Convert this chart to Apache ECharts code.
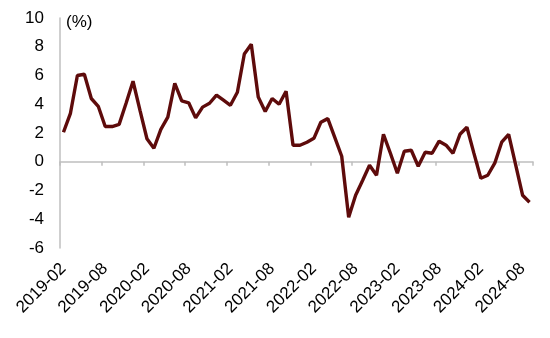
<!DOCTYPE html>
<html>

<head>
    <meta charset="utf-8">
    <script src="https://cdn.jsdelivr.net/npm/echarts@6.0.0/dist/echarts.min.js"></script>
    <style>
        body { margin: 0; background: #fff; }
    </style>
</head>

<body>
    <div id="echartsMain" style="width: 550px; height: 338px;"></div>
</body>

</html>

<script type="text/javascript">
    // monthly, 2019-02 .. 2024-09
    let months = [
        '2019-02', '2019-03', '2019-04', '2019-05', '2019-06', '2019-07', '2019-08', '2019-09', '2019-10', '2019-11', '2019-12',
        '2020-01', '2020-02', '2020-03', '2020-04', '2020-05', '2020-06', '2020-07', '2020-08', '2020-09', '2020-10', '2020-11', '2020-12',
        '2021-01', '2021-02', '2021-03', '2021-04', '2021-05', '2021-06', '2021-07', '2021-08', '2021-09', '2021-10', '2021-11', '2021-12',
        '2022-01', '2022-02', '2022-03', '2022-04', '2022-05', '2022-06', '2022-07', '2022-08', '2022-09', '2022-10', '2022-11', '2022-12',
        '2023-01', '2023-02', '2023-03', '2023-04', '2023-05', '2023-06', '2023-07', '2023-08', '2023-09', '2023-10', '2023-11', '2023-12',
        '2024-01', '2024-02', '2024-03', '2024-04', '2024-05', '2024-06', '2024-07', '2024-08', '2024-09'
    ]

    let values = [
        2.05, 3.37, 6.0, 6.09, 4.4, 3.86, 2.45, 2.45, 2.6, 4.07, 5.6,
        3.58, 1.6, 0.94, 2.25, 3.1, 5.46, 4.24, 4.1, 3.05, 3.8, 4.07, 4.63,
        4.28, 3.93, 4.83, 7.5, 8.17, 4.5, 3.5, 4.4, 4.0, 4.9, 1.15, 1.15,
        1.36, 1.63, 2.75, 3.0, 1.7, 0.38, -3.86, -2.33, -1.3, -0.24, -0.94, 1.91,
        0.59, -0.8, 0.73, 0.8, -0.31, 0.66, 0.59, 1.43, 1.15, 0.59, 1.91, 2.4,
        0.6, -1.15, -0.94, -0.1, 1.36, 1.91, -0.2, -2.33, -2.82
    ]

    let yTicks = { min: -6, max: 10, step: 2 }

    let myChart = echarts.init(document.getElementById('echartsMain'));

    let font = 'Liberation Sans, Arial, sans-serif'
    let gray = '#bfbfbf'

    let option = {
        animation: false,
        textStyle: { fontFamily: font },
        title: {
            text: '(%)',
            left: 66,
            top: 14,
            padding: 0,
            textStyle: { fontSize: 17, fontWeight: 'normal', color: '#000', fontFamily: font }
        },
        grid: {
            left: 60,
            right: 17,
            top: 18,
            bottom: 90,
            containLabel: false,
            outerBoundsMode: 'none'
        },
        xAxis: [
            {
                // the line at zero with its ticks
                type: 'category',
                data: months,
                boundaryGap: true,
                axisLine: { onZero: true, lineStyle: { color: gray, width: 1.5 } },
                axisTick: { show: true, interval: 5, length: 4, lineStyle: { color: gray, width: 1.5 } },
                axisLabel: { show: false },
                splitLine: { show: false }
            },
            {
                // labels at the bottom of the plot
                type: 'category',
                data: months,
                position: 'bottom',
                boundaryGap: true,
                axisLine: { show: false, onZero: false },
                axisTick: { show: false },
                axisLabel: {
                    interval: 5,
                    rotate: 45,
                    margin: 18,
                    fontSize: 17,
                    color: '#000',
                    fontFamily: font
                },
                splitLine: { show: false }
            }
        ],
        yAxis: {
            type: 'value',
            min: yTicks.min,
            max: yTicks.max,
            interval: yTicks.step,
            axisLine: { show: true, lineStyle: { color: gray, width: 1.5 } },
            axisTick: { show: false },
            splitLine: { show: false },
            axisLabel: {
                margin: 16,
                fontSize: 17,
                color: '#000',
                fontFamily: font
            }
        },
        series: [
            {
                type: 'line',
                xAxisIndex: 0,
                data: values,
                symbol: 'none',
                lineStyle: { color: '#5e0b0b', width: 3.4 },
                itemStyle: { color: '#5e0b0b' }
            }
        ]
    };
    myChart.setOption(option);
</script>
